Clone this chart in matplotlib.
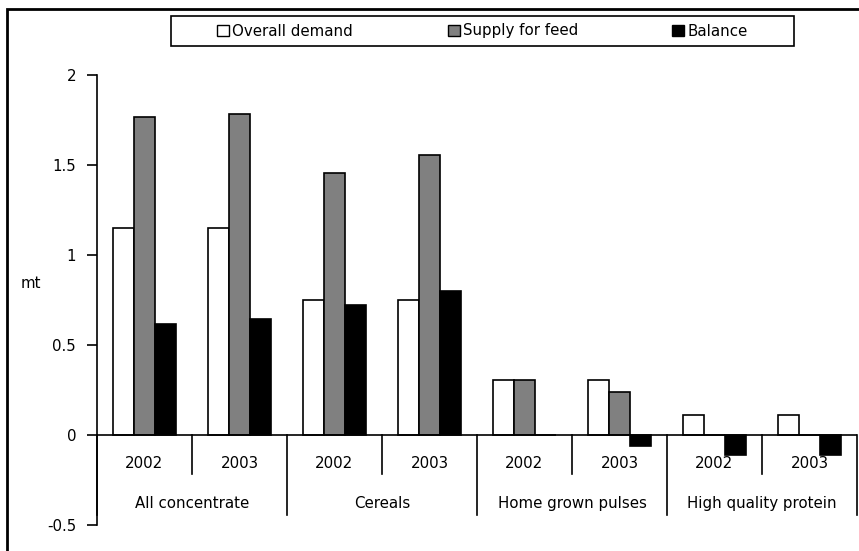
import numpy as np
import matplotlib
matplotlib.use('Agg')
import matplotlib.pyplot as plt
from matplotlib.patches import Rectangle, Patch

# data
groups = ['All concentrate', 'Cereals', 'Home grown pulses', 'High quality protein']
years = ['2002', '2003']
overall_demand = [1.15, 1.15, 0.75, 0.75, 0.305, 0.305, 0.113, 0.113]
supply_for_feed = [1.765, 1.785, 1.457, 1.556, 0.305, 0.239, 0.0, 0.0]
balance = [0.615, 0.646, 0.72, 0.80, 0.0, -0.059, -0.113, -0.113]
yticks = [-0.5, 0, 0.5, 1, 1.5, 2]

plt.rcParams['font.family'] = 'DejaVu Sans'
plt.rcParams['font.size'] = 10.8

fig = plt.figure(figsize=(8.59, 5.51), dpi=100)
W, H = 859.0, 551.0
ax = fig.add_axes([97 / W, 1 - 525 / H, 760 / W, 450 / H])

n = len(overall_demand)
ind = np.arange(n)
width = 0.22
series = [(overall_demand, 'white', 'Overall demand'),
          (supply_for_feed, '#808080', 'Supply for feed'),
          (balance, 'black', 'Balance')]
for k, (vals, col, lab) in enumerate(series):
    ax.bar(ind + (k - 1) * width, vals, width, color=col, edgecolor='black',
           linewidth=1.2, label=lab, zorder=2)

ax.set_xlim(-0.5, n - 0.5)
ax.set_ylim(-0.5, 2)
ax.set_yticks(yticks)
ax.set_yticklabels(['-0.5', '0', '0.5', '1', '1.5', '2'])
ax.set_xticks([])
for s in ['top', 'right', 'bottom']:
    ax.spines[s].set_visible(False)
ax.spines['left'].set_linewidth(1.2)
ax.tick_params(axis='y', length=7, width=1.2, pad=8)
ax.axhline(0, color='black', linewidth=1.2, zorder=3)

# year and group labels under the zero line
for i in range(n):
    ax.text(i, -0.156, years[i % 2], ha='center', va='center')
for j, g in enumerate(groups):
    ax.text(2 * j + 0.5, -0.378, g, ha='center', va='center')
for b in np.arange(-0.5, n, 1.0):
    end = -0.444 if int(b + 0.5) % 2 == 0 else -0.217
    ax.plot([b, b], [0, end], color='black', linewidth=1.2, clip_on=False)

ax.text(-1.2, 0.84, 'mt', ha='center', va='center')

# legend box
fig.patches.append(Rectangle((171 / W, 1 - 46 / H), 623 / W, 30 / H,
                             transform=fig.transFigure, fill=False,
                             edgecolor='black', linewidth=1.2))
handles = [Patch(facecolor=c, edgecolor='black', linewidth=1, label=l)
           for _, c, l in series]
fig.legend(handles=handles, loc='center', bbox_to_anchor=(482.5 / W, 1 - 31 / H),
           ncol=3, frameon=False, handlelength=0.8, handleheight=0.8,
           handletextpad=0.2, columnspacing=6.3)

# outer frame
fig.patches.append(Rectangle((7 / W, -0.05), 1.0, 1 - 9 / H + 0.05,
                             transform=fig.transFigure, fill=False,
                             edgecolor='black', linewidth=2))

fig.savefig('out.png', dpi=100)
